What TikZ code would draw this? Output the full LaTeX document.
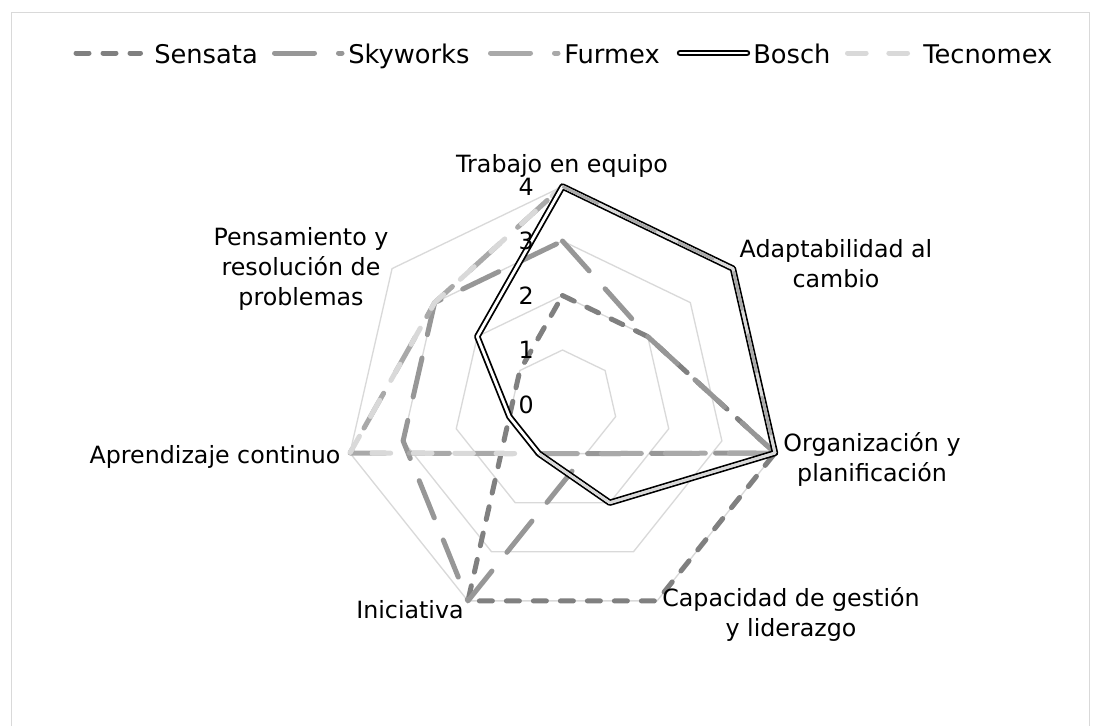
\documentclass[tikz,border=0pt]{standalone}
\usepackage{fontspec}
\setmainfont{DejaVu Sans}
\definecolor{gridc}{HTML}{D9D9D9}
\definecolor{sensc}{HTML}{808080}
\definecolor{skyc}{HTML}{979797}
\definecolor{furc}{HTML}{A9A9A9}
\definecolor{tecc}{HTML}{D9D9D9}
\begin{document}
\begin{tikzpicture}[x=0.75pt,y=-0.75pt,
  labfont/.style={font=\fontsize{17.8}{22.5}\selectfont},
  legfont/.style={font=\fontsize{19.3}{23}\selectfont},
  gridline/.style={draw=gridc, line width=1pt},
  sensata/.style={draw=sensc, line width=3.75pt, line cap=round, line join=round, dash pattern=on 9.75pt off 10.5pt},
  skyworks/.style={draw=skyc, line width=3.75pt, line cap=round, line join=round, dash pattern=on 30pt off 18pt},
  furmex/.style={draw=furc, line width=3.75pt, line cap=round, line join=round, dash pattern=on 30pt off 18pt},
  tecno/.style={draw=tecc, line width=3.75pt, line cap=round, line join=round, dash pattern=on 14pt off 17pt},
  bosch/.style={draw=black, line width=1.35pt, double=white, double distance=2.1pt, line join=round},
  lbl/.style={labfont, align=center, inner sep=0pt},
  tick/.style={labfont, anchor=east, inner sep=0pt},
  legtext/.style={legfont, anchor=base west, inner sep=0pt},
]
\useasboundingbox (0,0) rectangle (1101,726);
% chart frame
\draw[draw=gridc, line width=1pt] (11.5,726) -- (11.5,12.5) -- (1089.5,12.5) -- (1089.5,726);

% radar
\begin{scope}[shift={(562.5,404.5)}, yscale=-1]
  \foreach \l in {1,...,4} {
    \draw[gridline] ({90}:{\l*54.5}) \foreach \k in {1,...,6} { -- ({90-\k*360/7}:{\l*54.5}) } -- cycle;
  }
  \foreach \nm/\vals in {sen/{2,2,4,4,4,1,1}, sky/{3,2,4,1,4,3,3}, fur/{4,4,4,1,1,4,3}, bos/{4,4,4,2,1,1,2}, tec/{4,4,4,2,1,4,3}} {
    \foreach \v [count=\k from 0] in \vals {
      \coordinate (\nm\k) at ({90-\k*360/7}:{\v*54.5});
    }
  }
\end{scope}

\draw[sensata] (sen0) -- (sen1) -- (sen2) -- (sen3) -- (sen4) -- (sen5) -- (sen6) -- cycle;
\draw[skyworks] (sky0) -- (sky1) -- (sky2) -- (sky3) -- (sky4) -- (sky5) -- (sky6) -- cycle;
\draw[furmex] (fur0) -- (fur1) -- (fur2) -- (fur3) -- (fur4) -- (fur5) -- (fur6) -- cycle;
\draw[tecno] (tec0) -- (tec1) -- (tec2) -- (tec3) -- (tec4) -- (tec5) -- (tec6) -- cycle;
\draw[bosch] (bos0) -- (bos1) -- (bos2) -- (bos3) -- (bos4) -- (bos5) -- (bos6) -- cycle;
% series seen through the gap of the Bosch double line
\draw[tecno, line width=2.1pt, line cap=butt, dash pattern=] (tec0) -- (tec1) -- (tec2) -- (tec3) -- (tec4);
\draw[furmex, line width=2.1pt, line cap=butt] (fur0) -- (fur1) -- (fur2);

% scale labels
\foreach \l in {0,...,4} {
  \node[tick] (tk\l) at (534,{404.5-\l*54.5}) {\l};
}

% category labels
\node[lbl] (c0) at (562,166) {Trabajo en equipo};
\node[lbl] (c1) at (836,264) {Adaptabilidad al\\cambio};
\node[lbl] (c2) at (872,459) {Organización y\\planificación};
\node[lbl] (c3) at (791,614) {Capacidad de gestión\\y liderazgo};
\node[lbl] (c4) at (410,609.5) {Iniciativa};
\node[lbl] (c5) at (215,457) {Aprendizaje continuo};
\node[lbl] (c6) at (301,269) {Pensamiento y\\resolución de\\problemas};

% legend
\draw[sensata] (76,53) -- (140.5,53);
\node[legtext] (lg1) at (154,63) {Sensata};
\draw[skyworks] (274.5,53) -- (342,53);
\node[legtext] (lg2) at (348,63) {Skyworks};
\draw[furmex] (490.5,53) -- (558,53);
\node[legtext] (lg3) at (564,63) {Furmex};
\draw[bosch, line cap=round] (680,53) -- (747,53);
\node[legtext] (lg4) at (753,63) {Bosch};
\draw[tecno] (847.5,53) -- (908.5,53);
\node[legtext] (lg5) at (923,63) {Tecnomex};
\end{tikzpicture}
\end{document}
